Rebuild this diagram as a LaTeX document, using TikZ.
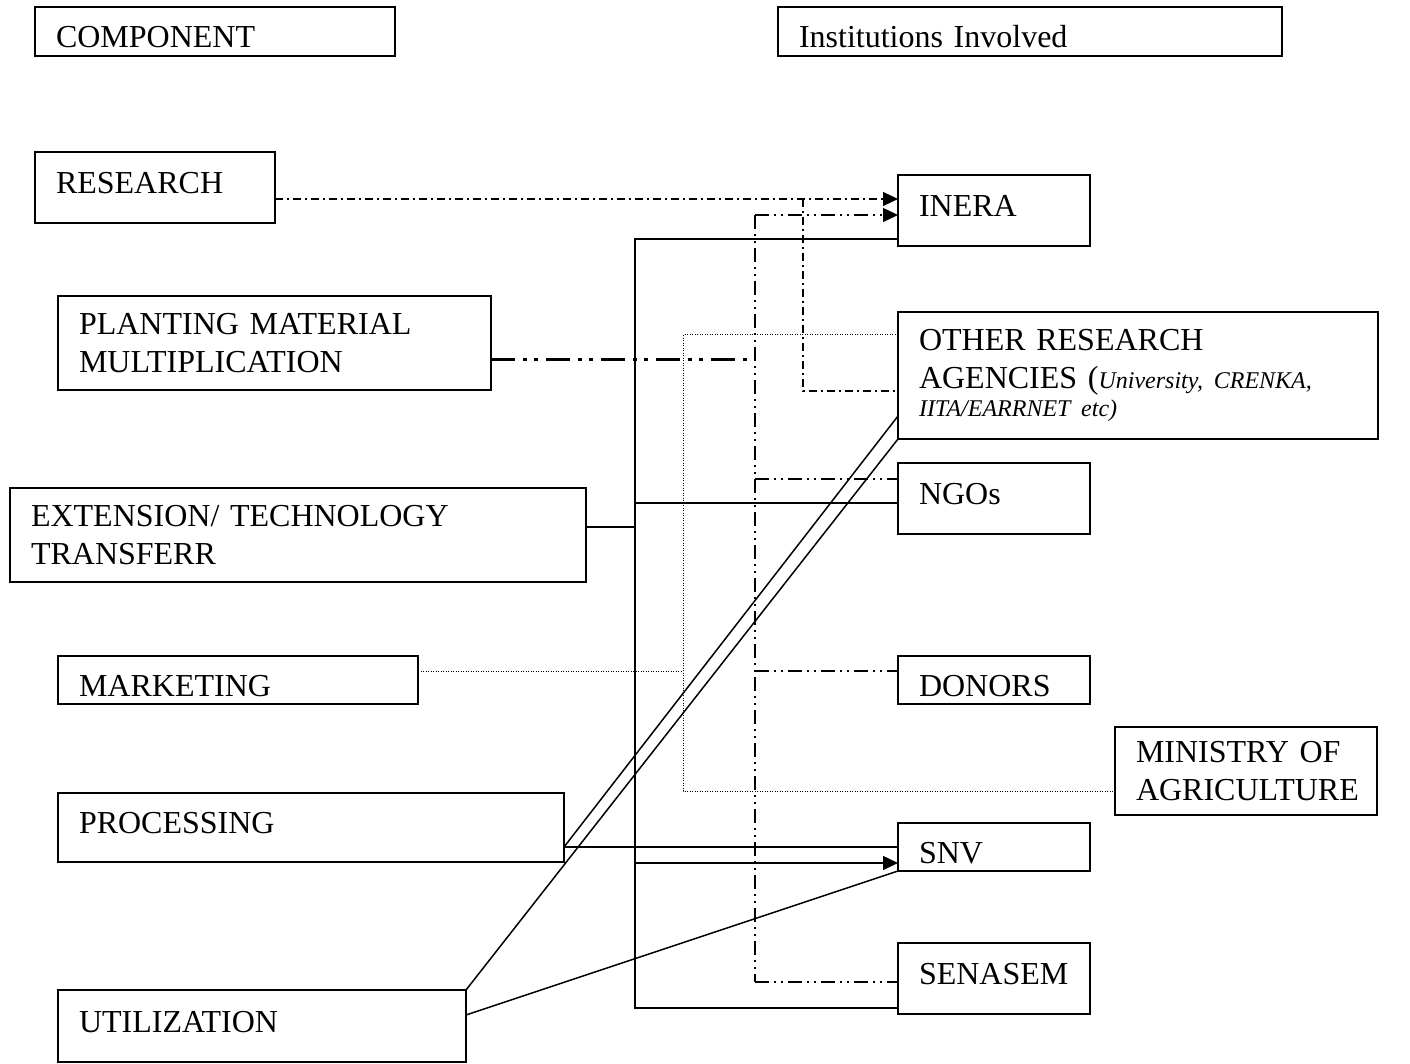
\documentclass[tikz,border=0pt]{standalone}
\usepackage{fontspec}
\setmainfont{Liberation Serif}
\usetikzlibrary{arrows.meta,calc}

\begin{document}
\begin{tikzpicture}[x=1pt, y=-1pt, >={Triangle[length=15pt,width=14pt]},
  box/.style={draw, line width=1.6pt, anchor=north west, outer sep=0pt,
    inner xsep=21pt, inner ysep=0pt, align=left,
    font=\fontsize{32}{38}\selectfont},
  onebox/.style={box, text depth=9pt},
  lowbox/.style={box, text height=33pt, text depth=0pt},
  solidln/.style={line width=1.5pt},
  dotln/.style={line width=1pt, dash pattern=on 1pt off 1.5pt},
  resln/.style={line width=1.1pt, dash pattern=on 8pt off 4pt on 2pt off 4pt},
  plantln/.style={line width=1.3pt, dash pattern=on 14pt off 5pt on 2pt off 5pt on 2pt off 5pt}]

\useasboundingbox (0,0) rectangle (1410,1064);

% ---- Headers ----
\node[lowbox, text width=318pt, minimum height=49pt] (comp) at (35,7) {COMPONENT};
\node[lowbox, text width=462pt, minimum height=49pt] (inst) at (778,7) {Institutions Involved};

% ---- Components ----
\node[onebox, text width=198pt, minimum height=71pt] (research) at (35,152) {RESEARCH};
\node[box, text width=391pt, minimum height=94pt] (planting) at (58,296) {PLANTING MATERIAL\\MULTIPLICATION};
\node[box, text width=534pt, minimum height=94pt] (extension) at (10,488) {EXTENSION/ TECHNOLOGY\\TRANSFERR};
\node[lowbox, text width=318pt, minimum height=48pt] (marketing) at (58,656) {MARKETING};
\node[onebox, text width=464pt, minimum height=69pt] (processing) at (58,793) {PROCESSING};
\node[onebox, text width=366pt, minimum height=72pt] (utilization) at (58,990) {UTILIZATION};

% ---- Institutions ----
\node[onebox, text width=150pt, minimum height=71pt] (inera) at (898,175) {INERA};
\node[box, text width=438pt, minimum height=127pt] (other) at (898,312)
  {OTHER RESEARCH\\AGENCIES ({\fontsize{24}{28}\selectfont\itshape University, CRENKA,}\\[-10pt]{\fontsize{24}{28}\selectfont\itshape IITA/EARRNET etc)}};
\node[onebox, text width=150pt, minimum height=71pt] (ngos) at (898,463) {NGOs};
\node[lowbox, text width=150pt, minimum height=48pt] (donors) at (898,656) {DONORS};
\node[box, text width=220pt, minimum height=88pt] (ministry) at (1115,727) {MINISTRY OF\\AGRICULTURE};
\node[lowbox, text width=150pt, minimum height=48pt] (snv) at (898,823) {SNV};
\node[onebox, text width=150pt, minimum height=71pt] (senasem) at (898,943) {SENASEM};

% Bus lines
\coordinate (ebus) at (635,0);
\coordinate (mbus) at (683,0);
\coordinate (pbus) at (755,0);
\coordinate (rbus) at (803,0);

% Research links
\coordinate (inA) at ([yshift=-24pt]inera.north west);
\draw[resln, ->] (research.east |- inA) -- (inA);
\draw[resln] (inA -| rbus) |- ([yshift=-79pt]other.north west);

% Planting material links
\coordinate (inB) at ([yshift=-40pt]inera.north west);
\coordinate (ngA) at ([yshift=-16pt]ngos.north west);
\coordinate (doA) at ([yshift=-15pt]donors.north west);
\coordinate (sA) at ([yshift=-39pt]senasem.north west);
\coordinate (pm) at ([yshift=-16pt]planting.east);
\draw[line width=3pt, dash pattern=on 24pt off 8pt on 4pt off 7pt on 4pt off 8pt] (pm) -- (pm -| pbus);
\draw[plantln, line width=2pt] (inB -| pbus) -- (sA -| pbus);
\draw[plantln, ->] (inB -| pbus) -- (inB);
\draw[plantln] (ngA -| pbus) -- (ngA);
\draw[plantln] (doA -| pbus) -- (doA);
\draw[plantln] (sA -| pbus) -- (sA);

% Extension links
\coordinate (inC) at ([yshift=-64pt]inera.north west);
\coordinate (sB) at ([yshift=-65pt]senasem.north west);
\coordinate (ngB) at ([yshift=-40pt]ngos.north west);
\coordinate (snA) at ([yshift=8pt]snv.south west);
\draw[solidln] (inC) -| (ebus |- sB) -- (sB);
\draw[solidln] ([yshift=8pt]extension.east) -- ([yshift=8pt]extension.east -| ebus);
\draw[solidln] (ngB -| ebus) -- (ngB);
\draw[solidln, ->] (snA -| ebus) -- (snA);

% Marketing links
\coordinate (otA) at ([yshift=-23pt]other.north west);
\coordinate (miA) at ([yshift=-64pt]ministry.north west);
\draw[dotln] (otA) -| (mbus |- miA) -- (miA);
\draw[dotln] ([yshift=9pt]marketing.east) -- ([yshift=9pt]marketing.east -| mbus);

% Processing links
\coordinate (prA) at ([yshift=15pt]processing.south east);
\coordinate (snB) at ([yshift=-24pt]snv.north west);
\coordinate (otB) at ([yshift=23pt]other.south west);
\draw[solidln] (prA) -- (snB);
\draw[solidln] (prA) -- (otB);

% Utilization links
\draw[solidln] (utilization.north east) -- (other.south west);
\draw[solidln] ([yshift=-25pt]utilization.north east) -- (snv.south west);

\end{tikzpicture}
\end{document}
